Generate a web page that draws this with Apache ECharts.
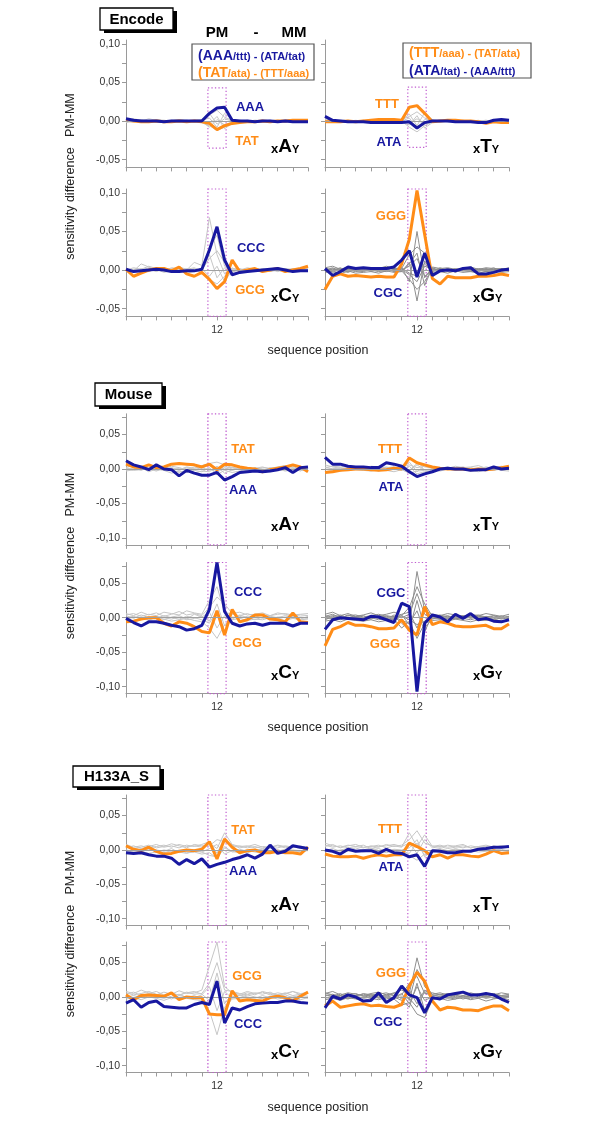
<!DOCTYPE html>
<html><head><meta charset="utf-8">
<script src="https://cdn.jsdelivr.net/npm/echarts@6/dist/echarts.min.js"></script>
<style>html,body{margin:0;padding:0;background:#fff}#c{width:600px;height:1132px}</style>
</head><body><div id="c"></div>
<script>
// ---------- DATA (values in thousandths of sensitivity difference) ----------
const positions = [0,1,2,3,4,5,6,7,8,9,10,11,12,13,14,15,16,17,18,19,20,21,22,23,24];
const centerLabel = 12;
const boxPositions = [10.8, 13.2];

// Encode
const encA_blue   = [3,1,0,0,0,  -1,0,0,0,0,  0,10,17,18,1,  0,0,-1,0,0,  -1,0,-1,-1,-1];
const encA_orange = [1,0,-1,-1,0,  -1,-1,0,-1,0,  -1,-3,-11,-6,-3,  -2,-1,-1,0,-1,  0,0,1,1,1];
const encA_gray = [
  [2,1,0,1,0,  -1,0,1,0,1,  2,8,14,5,1,  0,1,0,-1,0,  1,0,1,0,1],
  [-1,0,2,0,1,  0,-1,0,1,0,  -2,-6,-12,-8,-2,  0,-1,0,1,0,  0,1,-1,0,0],
  [1,3,1,0,-1,  1,0,-1,0,0,  1,4,-8,10,2,  1,0,1,0,-1,  0,0,1,1,0],
  [0,-1,0,3,1,  0,1,0,-1,1,  0,-4,6,-10,-3,  0,1,0,0,1,  -1,0,0,-1,1],
  [0,1,-1,0,2,  1,0,1,0,-1,  0,10,-4,3,0,  -1,0,1,1,0,  0,-1,0,0,0],
  [-2,0,1,-1,0,  0,1,2,1,0,  -1,-8,2,-5,-1,  1,0,-1,0,1,  1,0,-1,1,-1]
];
const encT_blue   = [6,1,0,-1,-1,  -1,-2,-2,-2,-2,  -2,-1,-9,-2,0,  0,0,-1,-1,-1,  -2,-2,1,2,1];
const encT_orange = [-1,-1,-1,0,-1,  0,1,2,2,2,  1,18,20,10,-1,  0,1,1,0,0,  -1,-3,-1,-2,-2];
const encT_gray = [
  [3,1,0,1,0,  -1,0,0,1,0,  2,6,12,4,0,  1,0,0,1,-1,  0,1,0,0,1],
  [-1,0,1,0,-1,  0,1,0,0,-1,  0,-8,-14,-6,-1,  0,1,0,0,0,  -1,0,1,0,0],
  [0,1,-1,0,1,  0,0,1,-1,0,  1,9,-6,11,2,  0,0,-1,0,1,  0,0,0,1,-1],
  [1,-1,0,0,0,  1,-1,0,0,1,  -1,-5,7,-9,-2,  0,1,0,-1,0,  1,-1,0,0,0],
  [0,0,1,1,-1,  0,0,-1,1,0,  0,4,-10,2,1,  -1,0,1,0,0,  0,1,-1,0,1],
  [2,0,0,-1,0,  1,0,1,0,0,  2,-3,3,-4,0,  1,-1,0,1,0,  -1,0,0,1,0]
];
const encC_blue   = [1,-2,-1,0,1,  0,-2,-2,-1,-1,  1,26,56,13,-6,  -3,-2,-1,0,1,  2,0,-2,-1,-1];
const encC_orange = [1,-8,-4,0,2,  2,-1,4,-5,-8,  -3,-12,-24,-15,13,  -2,0,2,-2,0,  2,-2,0,2,5];
const encC_gray = [
  [0,3,1,5,2,  -1,3,2,0,10,  6,68,20,-5,2,  1,-1,2,0,1,  -2,1,0,2,1],
  [2,-1,8,4,0,  3,-2,-1,2,0,  -3,30,45,5,-2,  0,3,1,-1,2,  0,-1,2,0,-1],
  [-1,1,0,-2,3,  -1,1,-3,-1,2,  -4,-12,-18,-8,3,  -2,0,-1,2,0,  1,-2,0,-1,0],
  [1,0,-3,1,-2,  2,0,1,-4,-2,  0,15,25,10,-3,  1,-2,2,0,-1,  3,0,-1,1,2],
  [0,-2,2,0,1,  -3,-1,4,1,-1,  2,-8,5,-15,0,  -1,1,0,-2,1,  -1,2,1,0,-1],
  [-2,1,0,3,-1,  0,2,-1,1,3,  -1,20,-10,3,1,  2,-1,0,1,-2,  0,1,-1,2,0]
];
const encG_blue   = [2,-7,-2,4,2,  3,2,2,2,4,  13,25,-9,22,-7,  -1,0,-1,2,3,  -5,-5,-3,0,1];
const encG_orange = [-25,-8,-5,-8,-7,  -8,-9,-8,-9,-9,  8,40,103,46,-11,  -18,-8,-10,-10,-10,  -8,-8,-7,-5,-7];
const encG_gray = [
  [3,5,1,4,2,  0,3,2,5,2,  3,-15,50,-10,4,  2,3,1,2,4,  1,3,2,1,3],
  [-3,-2,-5,-1,-4,  -3,-2,-4,-1,-3,  -2,10,-40,12,-3,  -2,-4,-1,-3,-2,  -4,-2,-1,-3,-2],
  [1,-1,2,0,1,  -1,2,1,-1,0,  2,20,30,22,0,  1,-1,2,0,1,  0,-1,1,0,1],
  [-1,2,-2,1,0,  3,-1,0,2,-2,  -1,-12,-25,-15,2,  0,1,-2,1,0,  2,1,-2,1,0],
  [2,0,3,-2,2,  1,0,-2,1,3,  0,5,15,-8,-1,  3,0,1,-1,-2,  1,0,3,-1,2],
  [-2,1,0,2,-1,  -2,1,3,0,-1,  1,-6,-15,5,1,  -2,2,0,-1,1,  -1,2,0,2,-1],
  [0,3,-1,-3,1,  2,-2,1,3,1,  -2,8,22,-20,3,  -1,2,-3,1,2,  0,-2,1,2,0],
  [4,-3,1,0,-2,  0,2,-1,-2,1,  3,-4,-8,9,-2,  1,-1,0,2,-1,  -2,1,0,-2,1]
];

// Mouse
const mouA_blue   = [12,6,3,-1,6,  0,-1,-10,-2,-6,  -9,-9,-5,-16,-11,  -5,-4,-3,-4,-3,  -1,2,-5,2,3];
const mouA_orange = [7,3,2,6,2,  3,7,8,7,6,  3,7,-1,7,6,  3,1,0,-4,-1,  1,3,6,3,-4];
const mouA_gray = [
  [5,3,0,2,-2,  1,4,2,-1,3,  1,6,-3,4,0,  2,-1,1,3,0,  -2,1,4,-1,-3],
  [-3,-1,2,-4,0,  -2,-6,-3,-5,-2,  -4,2,-8,-2,-5,  -3,0,-2,-1,-4,  0,-3,-1,-2,0],
  [2,5,4,1,3,  0,2,-1,3,1,  5,8,10,6,2,  4,1,-1,2,1,  3,5,2,0,-2],
  [0,-2,-1,0,-3,  1,-1,-5,-2,-6,  -3,-4,4,-6,-1,  0,-2,2,-1,0,  -1,-2,1,-3,2],
  [1,0,3,-1,1,  3,-1,1,0,-1,  2,-2,3,0,3,  -1,2,0,-3,2,  1,0,-1,2,1],
  [-2,2,-2,3,-1,  -1,1,-2,2,0,  -1,1,-5,2,-2,  1,-3,1,0,-2,  2,-1,0,1,-1]
];
const mouT_blue   = [17,7,7,4,3,  3,2,2,9,7,  4,-4,-11,-7,-4,  0,1,0,0,-2,  -1,-1,3,0,1];
const mouT_orange = [-5,-4,-2,-1,0,  0,-1,-2,-1,1,  0,16,9,6,3,  1,0,0,0,-1,  0,-1,0,2,4];
const mouT_gray = [
  [6,3,1,2,0,  3,1,2,-1,1,  3,6,2,4,1,  0,2,1,3,0,  1,2,0,3,1],
  [-4,-2,-3,0,-1,  -2,-3,-1,-2,-4,  -1,-6,-3,-2,-1,  -3,0,-2,-1,-2,  -4,-1,-2,0,-1],
  [2,4,3,5,2,  1,4,3,2,3,  1,10,-4,5,3,  2,1,4,2,3,  5,1,2,4,2],
  [0,-1,1,-2,0,  0,-1,0,1,-1,  0,-3,6,-1,0,  1,-1,0,-2,0,  1,-1,0,-1,0],
  [-1,1,-1,1,2,  -2,0,-3,0,2,  -2,4,-7,-4,-2,  -1,1,-1,0,2,  -1,0,1,-2,-3],
  [3,0,2,-1,1,  2,0,1,3,0,  2,-2,8,3,2,  1,3,0,1,-1,  0,3,1,2,1]
];
const mouC_blue   = [-1,-7,-12,-6,-6,  -8,-11,-13,-18,-16,  -11,12,80,9,-8,  -12,-9,-8,-11,-8,  -8,-8,-12,-8,-8];
const mouC_orange = [-6,-5,-2,0,0,  -8,-12,-6,-8,-13,  -20,-22,10,-25,12,  -6,-3,4,4,-2,  -3,-6,7,-6,-7];
const mouC_gray = [
  [4,6,2,5,3,  8,6,4,10,7,  5,25,45,8,5,  3,6,2,4,3,  7,5,2,4,3],
  [-2,-4,-1,-3,0,  -2,-5,-3,-1,-4,  -6,-15,-30,-10,-3,  -1,-4,-2,-3,0,  -2,-4,-1,-3,-2],
  [6,3,8,4,7,  2,5,9,4,6,  3,15,30,20,6,  8,4,5,7,3,  5,6,4,5,6],
  [0,2,-2,1,-1,  3,0,-2,2,0,  -3,-8,10,-20,0,  2,-1,1,0,-2,  1,0,-1,1,0],
  [3,-1,4,0,2,  -3,1,3,-2,5,  1,8,-15,3,-2,  4,0,3,-1,2,  0,3,1,-2,2],
  [-3,1,0,-4,2,  0,-2,1,-3,-1,  2,-5,20,-12,1,  -1,2,-3,1,0,  -2,1,2,0,-1]
];
const mouG_blue   = [-17,-3,0,-1,-2,  -3,2,1,-3,-7,  21,16,-107,-8,4,  1,-6,5,-1,6,  -3,-1,-5,-6,-3];
const mouG_orange = [-41,-17,-13,-7,-11,  -11,-13,-16,-16,-15,  -3,-18,-25,16,-10,  -6,-8,-12,-13,-13,  -12,-11,-16,-16,-9];
const mouG_gray = [
  [5,8,3,6,2,  4,7,3,5,8,  4,-10,67,10,5,  3,6,4,2,5,  3,6,4,2,5],
  [-5,-3,-6,-2,-4,  -5,-3,-6,-4,-2,  -15,-5,-30,-8,-4,  -3,-5,-2,-4,-6,  -3,-4,-2,-5,-3],
  [2,5,0,3,4,  1,3,5,2,0,  3,15,45,20,2,  4,1,3,0,2,  4,1,3,0,2],
  [-2,0,-3,1,-1,  -2,0,-3,-1,2,  -8,-18,25,-15,-1,  0,-2,1,-1,-3,  0,-1,1,-2,0],
  [0,3,2,-2,1,  3,-1,2,0,-1,  5,8,-15,12,0,  2,-1,0,2,1,  -1,2,0,1,-1],
  [3,-2,1,-1,-3,  0,2,-1,3,1,  -4,-8,10,-20,3,  -1,2,-2,1,0,  2,-2,3,-1,2],
  [-3,2,-1,4,0,  -2,3,1,-2,4,  0,5,35,5,-2,  1,3,-1,-2,3,  -1,0,-2,3,-2],
  [1,-1,4,0,2,  -1,-2,3,1,-3,  2,-3,-10,-5,1,  -2,0,2,3,-1,  2,1,-3,0,1]
];

// H133A_S
const hgA_blue   = [-4,-5,-4,-7,-9,  -9,-12,-21,-14,-20,  -13,-25,-21,-18,-14,  -11,-7,-12,-6,7,  -5,-2,6,4,2];
const hgA_orange = [6,1,-1,4,-2,  -6,-5,-2,0,-1,  1,12,-13,16,4,  -4,-1,0,-4,-4,  -2,-4,-4,-6,4];
const hgA_gray = [
  [8,4,6,3,5,  7,4,8,5,6,  4,10,2,25,8,  5,6,3,5,4,  6,3,5,2,4],
  [-2,0,-3,1,-2,  -4,-1,-3,-5,-2,  -3,-8,-10,5,-3,  -2,-4,-1,-2,-3,  0,-2,-1,-3,0],
  [3,6,2,5,8,  4,6,3,7,5,  8,12,-5,18,4,  6,3,5,2,4,  7,5,3,6,2],
  [0,-2,1,-1,0,  -2,2,-4,-1,0,  -3,2,8,-6,-1,  1,-2,0,1,-1,  -2,1,0,-1,1],
  [5,2,4,7,3,  5,9,6,3,8,  6,6,15,12,7,  3,5,8,4,2,  3,6,4,5,3],
  [-4,-1,-2,-5,-3,  0,-2,-1,-4,-3,  -6,-4,-12,3,-2,  -4,-1,-3,-5,-2,  -1,-3,-4,-2,-1]
];
const hgT_blue   = [0,-2,-6,1,-2,  -1,-1,-5,1,-4,  -5,-10,-7,-24,-1,  -2,-4,-4,-2,-2,  1,2,4,4,5];
const hgT_orange = [-6,-9,-10,-10,-9,  -12,-9,-7,-9,-7,  -7,10,5,-1,-10,  -7,-12,-7,-7,-9,  -10,-6,-1,-5,-4];
const hgT_gray = [
  [10,6,4,7,5,  3,6,4,8,5,  7,15,28,10,6,  4,7,5,3,6,  4,5,3,6,4],
  [-3,-1,-4,-2,0,  -3,-1,-2,-4,-1,  -2,-8,-15,-6,-2,  -1,-3,0,-2,-1,  -3,-2,0,-1,-2],
  [5,8,3,6,8,  4,5,7,3,6,  4,25,5,22,5,  7,4,6,8,3,  5,7,4,6,3],
  [1,-2,0,2,-1,  0,3,-1,1,0,  -2,-5,10,-8,0,  2,-1,1,0,-2,  1,0,2,-1,0],
  [7,4,6,3,5,  7,2,5,6,8,  5,10,-5,15,3,  5,2,4,6,3,  5,2,6,3,5],
  [-1,2,-2,0,3,  -1,0,2,-2,1,  0,3,15,-10,-1,  1,-2,2,-1,0,  2,-1,0,1,-2]
];
const hgC_blue   = [-9,-4,-15,-8,-6,  -14,-15,-16,-16,-11,  -8,-11,23,-38,-16,  -19,-14,-10,-9,-8,  -8,-6,-6,-8,-9];
const hgC_orange = [3,-4,2,3,2,  1,6,-4,0,-1,  -1,-25,-26,-26,9,  -6,-4,-5,-6,-1,  1,-1,-6,1,7];
const hgC_gray = [
  [8,5,10,6,3,  7,4,9,5,6,  10,45,80,15,6,  4,8,5,7,3,  6,4,8,5,6],
  [-3,-1,-4,0,-2,  -5,-1,-3,-2,-4,  -5,-20,-55,-15,-3,  -2,-1,-4,-2,0,  -3,-1,-2,-4,-1],
  [4,7,2,5,8,  3,6,2,7,4,  5,20,50,10,8,  5,3,6,4,7,  2,5,8,3,6],
  [0,2,-1,3,0,  -2,1,4,-1,2,  -3,-10,25,-25,1,  -1,3,0,-2,1,  3,-1,0,2,1],
  [2,-2,4,-1,3,  1,-3,2,0,-1,  3,15,-20,8,-2,  3,0,-2,2,-1,  0,3,-1,1,-2],
  [6,3,5,8,4,  2,5,3,6,8,  4,-5,35,-10,5,  2,6,3,8,5,  3,6,2,4,7]
];
const hgG_blue   = [-16,1,-3,3,0,  -6,-5,6,-8,-1,  16,3,-1,-23,-1,  -3,3,5,7,3,  3,5,3,-3,-8];
const hgG_orange = [-13,-6,-15,-13,-11,  -10,-13,-12,-14,-15,  -11,16,36,23,-6,  -19,-15,-16,-19,-19,  -20,-16,-13,-13,-20];
const hgG_gray = [
  [5,8,3,6,4,  2,5,7,3,6,  10,5,57,15,4,  6,3,5,7,4,  2,5,3,6,4],
  [-4,-2,-5,-1,-3,  -6,-2,-4,-1,-3,  -12,-8,-25,-30,-4,  -2,-5,-3,-1,-4,  -2,-6,-3,-1,-4],
  [2,4,0,3,5,  1,3,0,4,2,  15,-5,40,20,3,  1,4,2,0,3,  5,1,3,2,0],
  [-1,0,-3,1,-2,  0,-1,2,-3,0,  -5,-15,20,-20,-1,  0,-2,1,-3,0,  -1,2,-2,0,-1],
  [3,1,5,-1,2,  4,0,3,1,5,  -3,10,-10,10,2,  4,1,3,-1,2,  4,0,3,1,2],
  [0,-3,2,-2,0,  -1,3,-2,0,-1,  5,-10,15,-5,0,  -2,2,-1,0,-3,  1,-2,0,-1,1],
  [6,3,2,4,1,  5,3,4,6,2,  3,20,30,5,6,  3,5,4,2,6,  3,4,5,2,4],
  [-2,1,-1,-3,1,  -2,0,-1,2,-2,  0,-2,-15,8,-2,  1,-1,-3,2,0,  -2,1,-1,-2,0]
];

// dotted box ranges [top, bottom] per panel (A, T, C, G)
const boxEncode = [[43,-35],[44,-34],[105,-60],[105,-60]];
const boxMouse  = [[80,-110],[80,-110],[80,-110],[80,-110]];
const boxH133A  = [[80,-110],[80,-110],[80,-110],[80,-110]];

const sectionNames = ['Encode','Mouse','H133A_S'];
const baseLetters = ['A','T','C','G'];

// ---------- LAYOUT / STYLE ----------
const FONT = "'Liberation Sans', Arial, Helvetica, sans-serif";
const BLUE = '#1818a0', ORANGE = '#ff8c17', PURPLE = '#c05cd0';
const GRAY_L = '#c6c6c6', GRAY_D = '#8e8e8e', AXIS = '#9a9a9a', TXT = '#333';
const cols = [{left:126, width:182},{left:325, width:184}];
const sections = [
  {rows:[40,189], h:127.4, yMin:-60, yMax:105, labelVals:[-50,0,50,100], tickVals:[-50,-25,0,25,50,75,100], boxes:boxEncode,
   panels:[[encA_blue,encA_orange,encA_gray],[encT_blue,encT_orange,encT_gray],[encC_blue,encC_orange,encC_gray],[encG_blue,encG_orange,encG_gray]]},
  {rows:[413.8,562.5], h:131.1, yMin:-110, yMax:80, labelVals:[-100,-50,0,50], tickVals:[-100,-75,-50,-25,0,25,50,75], boxes:boxMouse,
   panels:[[mouA_blue,mouA_orange,mouA_gray],[mouT_blue,mouT_orange,mouT_gray],[mouC_blue,mouC_orange,mouC_gray],[mouG_blue,mouG_orange,mouG_gray]]},
  {rows:[795,942], h:130.5, yMin:-110, yMax:80, labelVals:[-100,-50,0,50], tickVals:[-100,-75,-50,-25,0,25,50,75], boxes:boxH133A,
   panels:[[hgA_blue,hgA_orange,hgA_gray],[hgT_blue,hgT_orange,hgT_gray],[hgC_blue,hgC_orange,hgC_gray],[hgG_blue,hgG_orange,hgG_gray]]}
];
const titleBoxes = [{x:100,y:8,w:73,h:22},{x:95,y:383,w:67,h:23},{x:73,y:766,w:87,h:21}];
const yTitleY = [176.5, 556, 934];
const xTitleY = [351, 728, 1108];
const seriesLabels = [
  ['AAA',BLUE,250,107],['TAT',ORANGE,247,141],['TTT',ORANGE,387,104],['ATA',BLUE,389,142],
  ['CCC',BLUE,251,248],['GCG',ORANGE,250,290],['GGG',ORANGE,391,216],['CGC',BLUE,388,293],
  ['TAT',ORANGE,243,449],['AAA',BLUE,243,490],['TTT',ORANGE,390,449],['ATA',BLUE,391,487],
  ['CCC',BLUE,248,592],['GCG',ORANGE,247,643],['CGC',BLUE,391,593],['GGG',ORANGE,385,644],
  ['TAT',ORANGE,243,830],['AAA',BLUE,243,871],['TTT',ORANGE,390,829],['ATA',BLUE,391,867],
  ['GCG',ORANGE,247,976],['CCC',BLUE,248,1024],['GGG',ORANGE,391,973],['CGC',BLUE,388,1022]
];

const fmt = v => (v/1000).toFixed(2).replace('.', ',');
const toXY = arr => positions.map((p, j) => [p, arr[j]]);

function txt(x, y, text, font, fill, align, valign, extra) {
  return Object.assign({type:'text', x, y, silent:true, z:100,
    style:{text, font, fill, textAlign:align||'center', align:align||'center',
           textVerticalAlign:valign||'middle', verticalAlign:valign||'middle'}}, extra||{});
}

const option = {animation:false, textStyle:{fontFamily:FONT}, grid:[], xAxis:[], yAxis:[], series:[], graphic:{elements:[]}};
const G = option.graphic.elements;
let gi = 0;
sections.forEach((sec, s) => {
  sec.panels.forEach((pn, k) => {
    const row = k >> 1, col = k & 1;
    const [blue, orange, grays] = pn;
    const dark = k === 3;
    option.grid.push({left:cols[col].left, top:sec.rows[row], width:cols[col].width, height:sec.h});
    option.xAxis.push({gridIndex:gi, type:'value', min:0, max:24, interval:2,
      axisLine:{show:true, onZero:false, lineStyle:{color:AXIS, width:1}},
      axisTick:{show:true, length:4, lineStyle:{color:AXIS}},
      axisLabel: row === 1 ? {show:true, formatter: v => v === centerLabel ? String(centerLabel) : '', fontSize:10.5, color:TXT, margin:8, fontFamily:FONT} : {show:false},
      splitLine:{show:false}});
    option.yAxis.push({gridIndex:gi, type:'value', min:sec.yMin, max:sec.yMax,
      axisLine:{show:true, onZero:false, lineStyle:{color:AXIS, width:1}},
      axisTick:{show:true, length:4, customValues:sec.tickVals, lineStyle:{color:AXIS}},
      axisLabel: col === 0 ? {show:true, customValues:sec.labelVals, formatter:fmt, fontSize:10.5, color:TXT, margin:6, fontFamily:FONT} : {show:false},
      splitLine:{show:false}});
    grays.forEach((g, m) => {
      const ser = {type:'line', xAxisIndex:gi, yAxisIndex:gi, data:toXY(g), symbol:'none', silent:true, z:2,
        lineStyle:{color: dark ? GRAY_D : GRAY_L, width:1}};
      if (m === 0) ser.markLine = {silent:true, symbol:'none', label:{show:false}, lineStyle:{color:'#a0a0a0', width:1, type:'solid'}, data:[{yAxis:0}]};
      option.series.push(ser);
    });
    option.series.push({type:'line', xAxisIndex:gi, yAxisIndex:gi, data:toXY(orange), symbol:'none', silent:true, z:4,
      lineStyle:{color:ORANGE, width:3}});
    const box = sec.boxes[k];
    option.series.push({type:'line', xAxisIndex:gi, yAxisIndex:gi, data:toXY(blue), symbol:'none', silent:true, z:5,
      lineStyle:{color:BLUE, width:3},
      markArea:{silent:true, itemStyle:{color:'rgba(0,0,0,0)', borderColor:PURPLE, borderWidth:1.2, borderType:[1.3,2.2]},
        data:[[{coord:[boxPositions[0], box[0]]},{coord:[boxPositions[1], box[1]]}]]}});
    // xNy label
    const lx = cols[col].left + (col ? 148 : 145);
    const ly = sec.rows[row] + sec.h - 11;
    G.push({type:'text', x:lx, y:ly, silent:true, z:100, style:{
      text:'{s|x}{b|' + baseLetters[k] + '}{y|Y}', textAlign:'left', align:'left', textVerticalAlign:'bottom', verticalAlign:'bottom',
      rich:{
        s:{fontSize:13, fontWeight:'bold', fontFamily:FONT, fill:'#000', verticalAlign:'bottom'},
        b:{fontSize:19, fontWeight:'bold', fontFamily:FONT, fill:'#000', verticalAlign:'bottom'},
        y:{fontSize:11, fontWeight:'bold', fontFamily:FONT, fill:'#000', verticalAlign:'bottom', padding:[0,0,1,0]}
      }}});
    gi++;
  });
  // section title box
  const tb = titleBoxes[s];
  G.push({type:'rect', silent:true, z:90, shape:{x:tb.x+4, y:tb.y+3, width:tb.w, height:tb.h}, style:{fill:'#000'}});
  G.push({type:'rect', silent:true, z:91, shape:{x:tb.x, y:tb.y, width:tb.w, height:tb.h}, style:{fill:'#fff', stroke:'#000', lineWidth:1.3}});
  G.push(txt(tb.x + tb.w/2, tb.y + tb.h/2 + 0.5, sectionNames[s], 'bold 15px ' + FONT, '#000'));
  // axis titles
  G.push(txt(71, yTitleY[s], 'sensitivity difference   PM-MM', '12.5px ' + FONT, '#222', 'center', 'middle', {rotation:Math.PI/2}));
  G.push(txt(318, xTitleY[s], 'sequence position', '12.5px ' + FONT, '#222'));
});

seriesLabels.forEach(([t, c, x, y]) => G.push(txt(x, y, t, 'bold 13px ' + FONT, c)));

// header "PM - MM"
G.push(txt(217, 33, 'PM', 'bold 15px ' + FONT, '#000'));
G.push(txt(256, 33, '-', 'bold 15px ' + FONT, '#000'));
G.push(txt(294, 33, 'MM', 'bold 15px ' + FONT, '#000'));

// legend boxes
function legendLine(x, y, big, small, color) {
  return {type:'text', x, y, silent:true, z:100, style:{
    text:'{b|' + big + '}{s|' + small + '}', textAlign:'left', align:'left', textVerticalAlign:'middle', verticalAlign:'middle',
    rich:{b:{fontSize:14, fontWeight:'bold', fontFamily:FONT, fill:color, verticalAlign:'bottom'},
          s:{fontSize:11, fontWeight:'bold', fontFamily:FONT, fill:color, verticalAlign:'bottom', padding:[0,0,1,0]}}}};
}
G.push({type:'rect', silent:true, z:95, shape:{x:192, y:44, width:122, height:36}, style:{fill:'#fff', stroke:'#555', lineWidth:1.2}});
G.push(legendLine(198, 56, '(AAA', '/ttt) - (ATA/tat)', BLUE));
G.push(legendLine(198, 73, '(TAT', '/ata) - (TTT/aaa)', ORANGE));
G.push({type:'rect', silent:true, z:95, shape:{x:403, y:43, width:128, height:35}, style:{fill:'#fff', stroke:'#555', lineWidth:1.2}});
G.push(legendLine(409, 53, '(TTT', '/aaa) - (TAT/ata)', ORANGE));
G.push(legendLine(409, 71, '(ATA', '/tat) - (AAA/ttt)', BLUE));

const chart = echarts.init(document.getElementById('c'), null, {renderer:'canvas'});
chart.setOption(option);
</script>
</body></html>
